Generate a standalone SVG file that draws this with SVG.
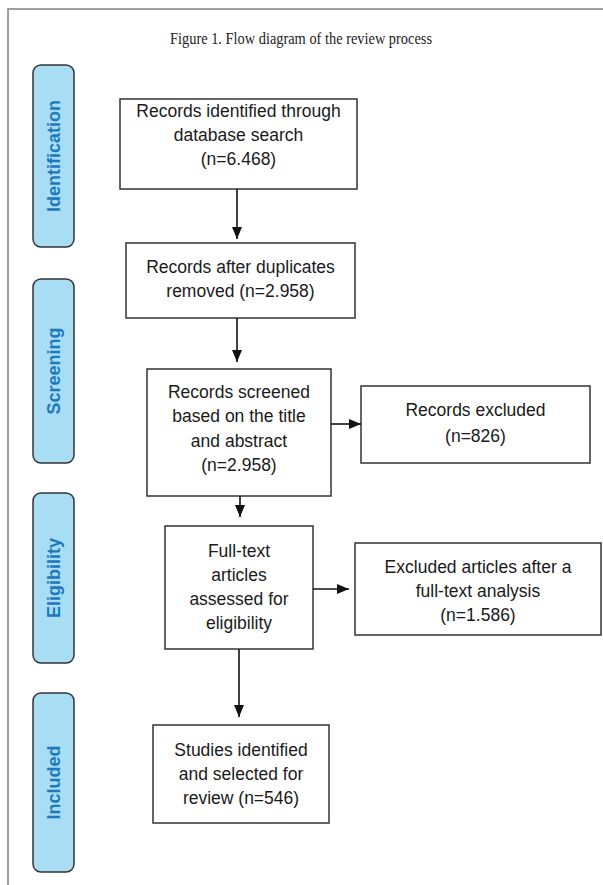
<svg xmlns="http://www.w3.org/2000/svg" width="603" height="885" viewBox="0 0 603 885">
<defs>
<style>
.frame{stroke:#808080;stroke-width:1.5;fill:none}
.title{font-family:"Liberation Serif",serif;font-size:17px;fill:#222;text-anchor:middle}
.pill{fill:#a9ddf4;stroke:#333;stroke-width:1.5}
.plab{font-family:"Liberation Sans",Arial,sans-serif;font-size:18px;font-weight:bold;fill:#1b79bf;text-anchor:middle}
.box{fill:#fff;stroke:#333;stroke-width:1.5}
.t{font-family:"Liberation Sans",Arial,sans-serif;font-size:17.5px;fill:#1a1a1a;text-anchor:middle}
.c{stroke:#111;stroke-width:1.6;fill:none;marker-end:url(#ah)}
</style>
<marker id="ah" markerUnits="userSpaceOnUse" markerWidth="12" markerHeight="12" viewBox="0 0 12 12" refX="12" refY="6" orient="auto">
<path d="M0,1 L12,6 L0,11 Z" fill="#111"/>
</marker>
</defs>
<rect width="603" height="885" fill="#fff"/>
<path class="frame" d="M8,885 V9 H603"/>
<text class="title" x="301" y="44" textLength="262" lengthAdjust="spacingAndGlyphs">Figure 1. Flow diagram of the review process</text>

<g id="phase-identification"><rect class="pill" x="33" y="65" width="41" height="182" rx="8"/><text class="plab" transform="translate(60,156) rotate(-90)">Identification</text></g>
<g id="phase-screening"><rect class="pill" x="33" y="279" width="41" height="184" rx="8"/><text class="plab" transform="translate(60,371) rotate(-90)">Screening</text></g>
<g id="phase-eligibility"><rect class="pill" x="33" y="493" width="41" height="170" rx="8"/><text class="plab" transform="translate(60,578) rotate(-90)">Eligibility</text></g>
<g id="phase-included"><rect class="pill" x="33" y="693" width="41" height="179" rx="8"/><text class="plab" transform="translate(60,782.5) rotate(-90)">Included</text></g>

<g id="n1"><rect class="box" x="120" y="99" width="237" height="90"/>
<text class="t" x="238.5" y="117">Records identified through</text>
<text class="t" x="238.5" y="141">database search</text>
<text class="t" x="238.5" y="165">(n=6.468)</text></g>

<g id="n2"><rect class="box" x="126" y="243" width="229" height="75"/>
<text class="t" x="240.5" y="273">Records after duplicates</text>
<text class="t" x="240.5" y="297">removed (n=2.958)</text></g>

<g id="n3"><rect class="box" x="147" y="369" width="184" height="127"/>
<text class="t" x="239" y="398">Records screened</text>
<text class="t" x="239" y="422">based on the title</text>
<text class="t" x="239" y="447">and abstract</text>
<text class="t" x="239" y="471">(n=2.958)</text></g>

<g id="n3x"><rect class="box" x="361" y="386" width="229" height="77"/>
<text class="t" x="475.5" y="416">Records excluded</text>
<text class="t" x="475.5" y="442">(n=826)</text></g>

<g id="n4"><rect class="box" x="165" y="526" width="148" height="123"/>
<text class="t" x="239" y="557">Full-text</text>
<text class="t" x="239" y="581">articles</text>
<text class="t" x="239" y="605">assessed for</text>
<text class="t" x="239" y="629">eligibility</text></g>

<g id="n4x"><rect class="box" x="355" y="543" width="246" height="92"/>
<text class="t" x="478" y="573">Excluded articles after a</text>
<text class="t" x="478" y="597">full-text analysis</text>
<text class="t" x="478" y="621">(n=1.586)</text></g>

<g id="n5"><rect class="box" x="153" y="725" width="176" height="98"/>
<text class="t" x="241" y="756">Studies identified</text>
<text class="t" x="241" y="780">and selected for</text>
<text class="t" x="241" y="804">review (n=546)</text></g>

<g id="connectors">
<line class="c" x1="237" y1="189" x2="237" y2="239"/>
<line class="c" x1="237" y1="318" x2="237" y2="362"/>
<line class="c" x1="331" y1="424" x2="361" y2="424"/>
<line class="c" x1="240" y1="496" x2="240" y2="517"/>
<line class="c" x1="313" y1="589" x2="349" y2="589"/>
<line class="c" x1="239" y1="649" x2="239" y2="717"/>
</g>
</svg>
